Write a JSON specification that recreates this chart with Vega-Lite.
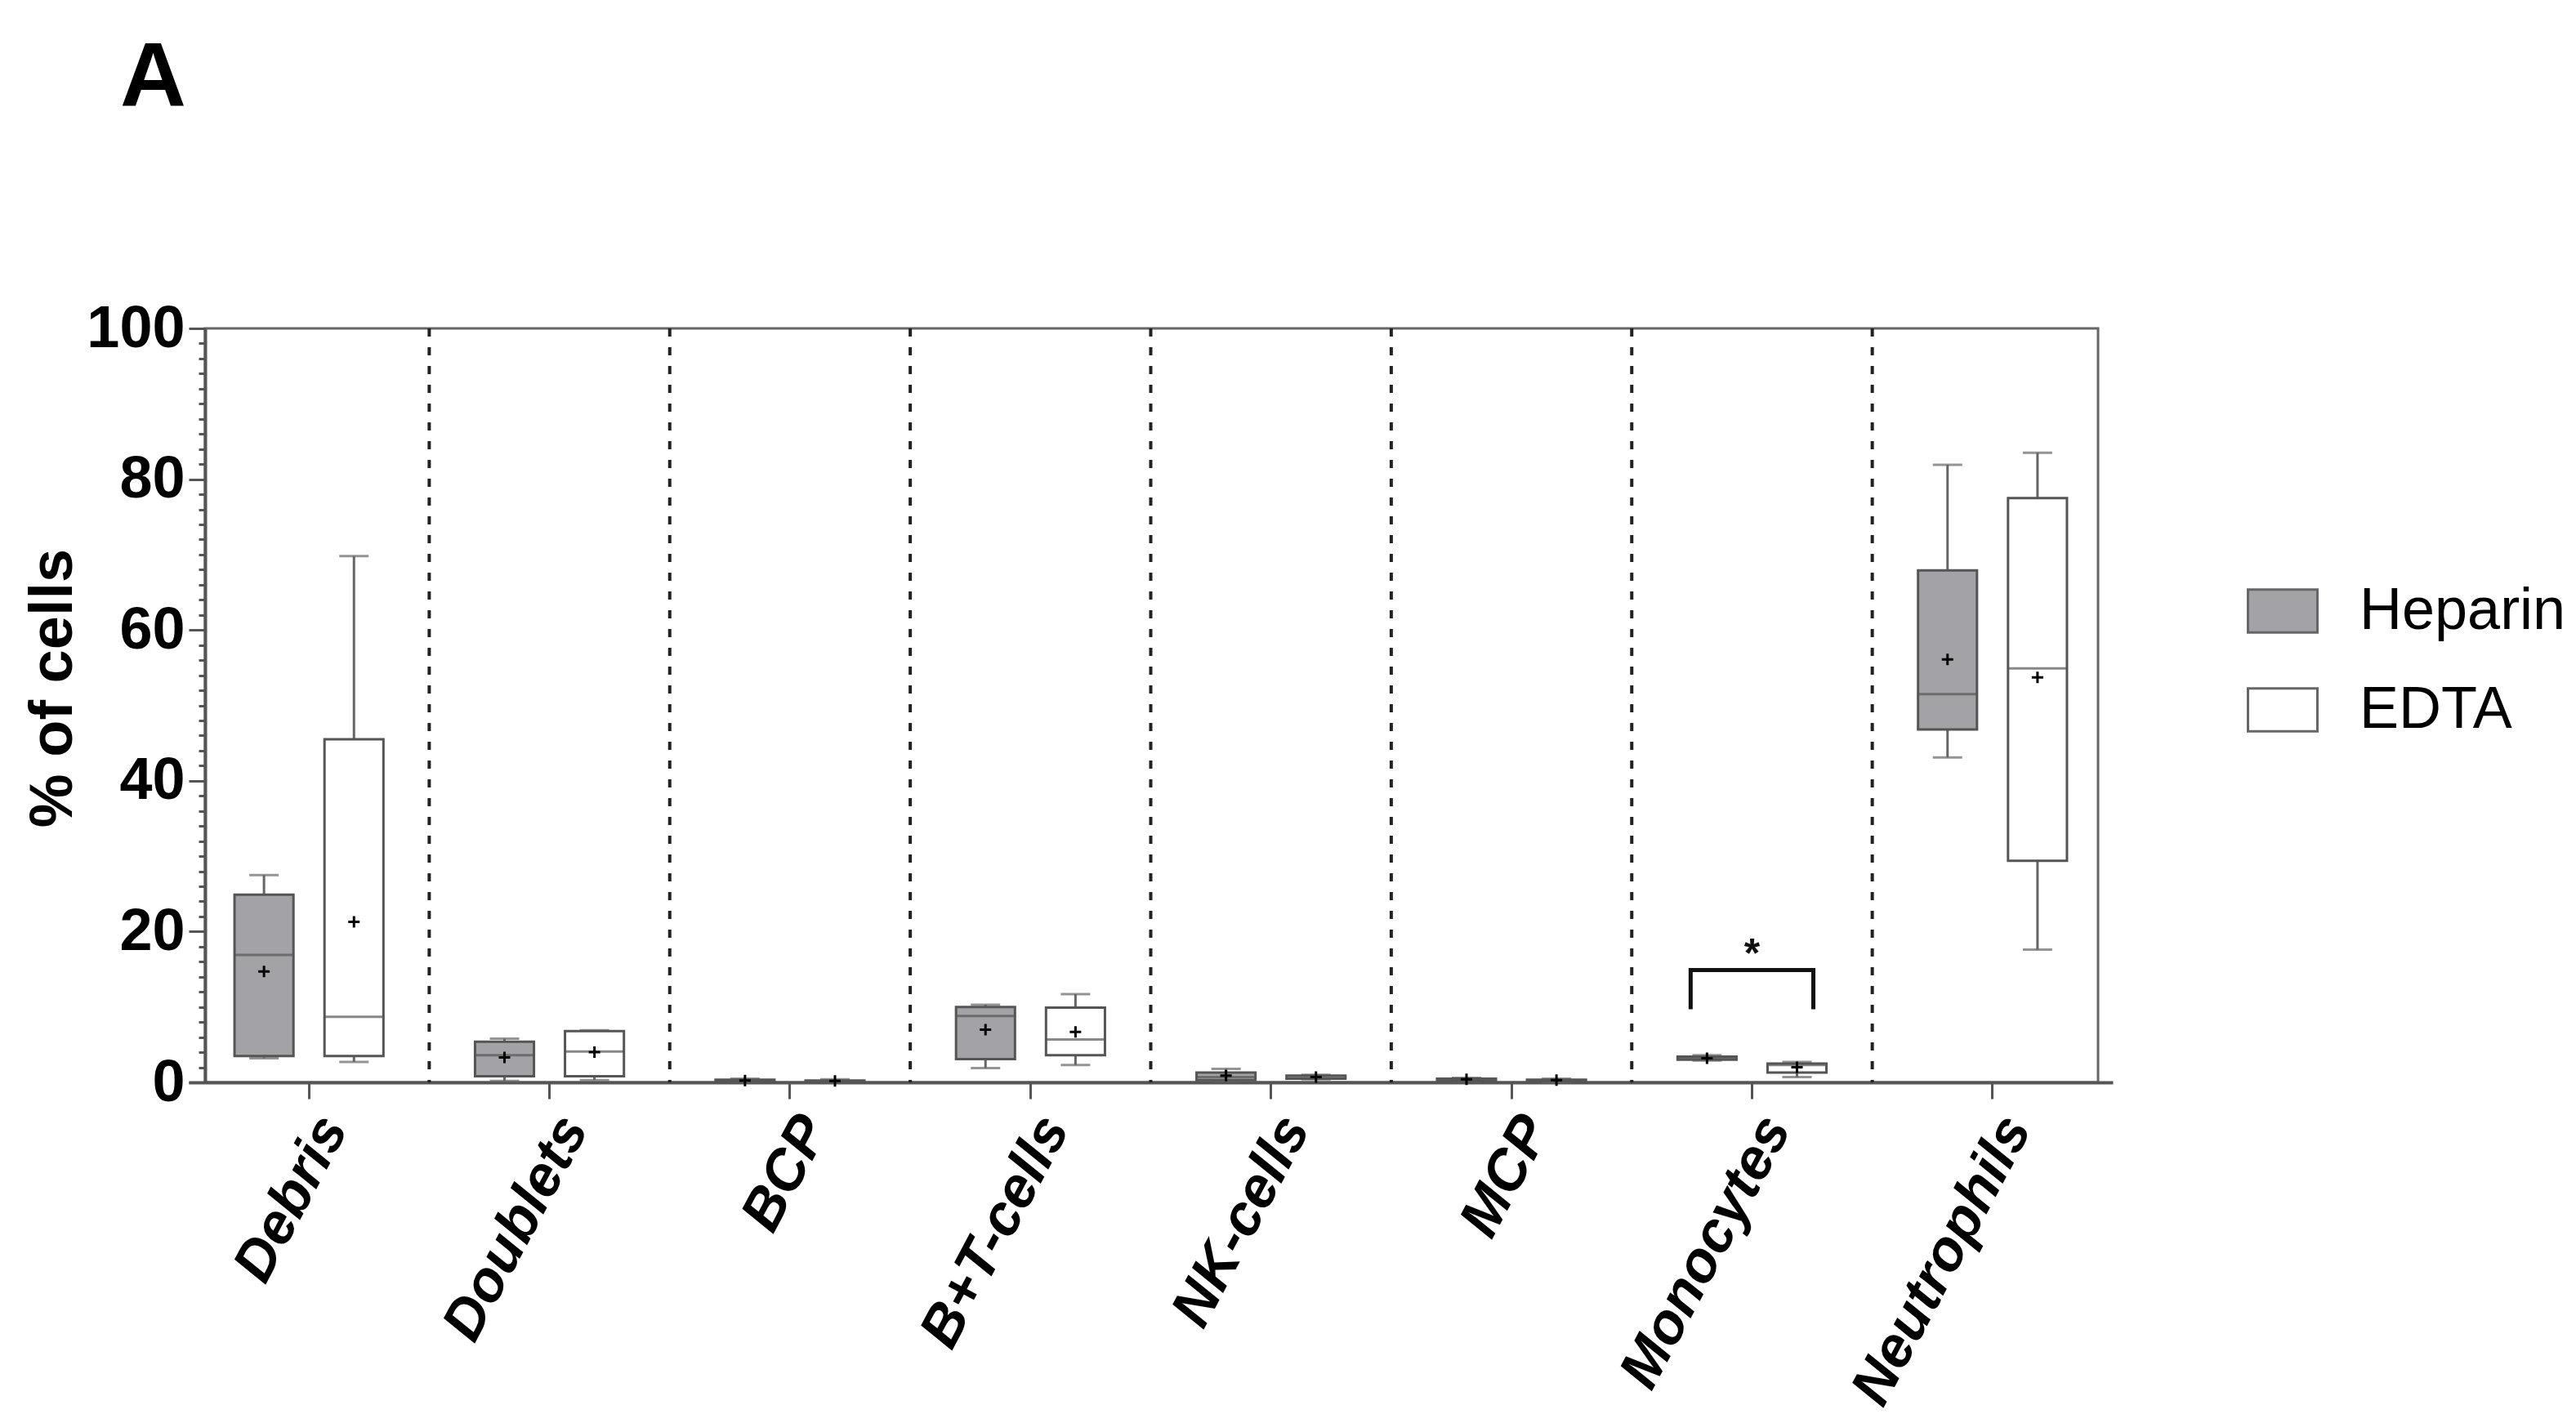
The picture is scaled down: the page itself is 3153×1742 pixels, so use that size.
{
  "$schema": "https://vega.github.io/schema/vega-lite/v6.json",
  "width": 2317,
  "height": 923,
  "autosize": {"type": "none"},
  "padding": {"left": 251, "top": 402, "right": 585, "bottom": 417},
  "background": "white",
  "title": {"text": "A", "anchor": "start", "frame": "group", "font": "Liberation Sans", "fontSize": 112, "fontWeight": "bold", "color": "#000000", "baseline": "alphabetic", "offset": 124, "dx": -104},
  "config": {
    "view": {"stroke": "#666666", "strokeWidth": 3},
    "font": "Liberation Sans",
    "axis": {"labelLimit": 0},
    "legend": {"labelLimit": 0}
  },
  "datasets": {
    "boxes": [
      {"category": "Debris", "group": "Heparin", "min": 3.2, "q1": 3.5, "median": 16.9, "q3": 24.9, "max": 27.5, "mean": 14.7},
      {"category": "Debris", "group": "EDTA", "min": 2.7, "q1": 3.5, "median": 8.7, "q3": 45.5, "max": 69.8, "mean": 21.3},
      {"category": "Doublets", "group": "Heparin", "min": 0.2, "q1": 0.8, "median": 3.6, "q3": 5.4, "max": 5.8, "mean": 3.3},
      {"category": "Doublets", "group": "EDTA", "min": 0.3, "q1": 0.8, "median": 4.1, "q3": 6.8, "max": 6.9, "mean": 4.0},
      {"category": "BCP", "group": "Heparin", "min": 0.1, "q1": 0.15, "median": 0.25, "q3": 0.35, "max": 0.5, "mean": 0.25},
      {"category": "BCP", "group": "EDTA", "min": 0.05, "q1": 0.1, "median": 0.15, "q3": 0.25, "max": 0.4, "mean": 0.2},
      {"category": "B+T-cells", "group": "Heparin", "min": 1.9, "q1": 3.1, "median": 8.8, "q3": 10.0, "max": 10.3, "mean": 7.0},
      {"category": "B+T-cells", "group": "EDTA", "min": 2.3, "q1": 3.6, "median": 5.7, "q3": 9.9, "max": 11.7, "mean": 6.7},
      {"category": "NK-cells", "group": "Heparin", "min": 0.2, "q1": 0.3, "median": 0.7, "q3": 1.3, "max": 1.8, "mean": 0.9},
      {"category": "NK-cells", "group": "EDTA", "min": 0.4, "q1": 0.5, "median": 0.7, "q3": 0.9, "max": 1.0, "mean": 0.7},
      {"category": "MCP", "group": "Heparin", "min": 0.1, "q1": 0.2, "median": 0.35, "q3": 0.5, "max": 0.6, "mean": 0.4},
      {"category": "MCP", "group": "EDTA", "min": 0.05, "q1": 0.15, "median": 0.25, "q3": 0.35, "max": 0.5, "mean": 0.3},
      {"category": "Monocytes", "group": "Heparin", "min": 2.9, "q1": 3.0, "median": 3.2, "q3": 3.4, "max": 3.6, "mean": 3.2},
      {"category": "Monocytes", "group": "EDTA", "min": 0.7, "q1": 1.3, "median": 2.3, "q3": 2.5, "max": 2.7, "mean": 2.0},
      {"category": "Neutrophils", "group": "Heparin", "min": 43.1, "q1": 46.8, "median": 51.5, "q3": 67.9, "max": 81.9, "mean": 56.1},
      {"category": "Neutrophils", "group": "EDTA", "min": 17.6, "q1": 29.4, "median": 54.9, "q3": 77.5, "max": 83.5, "mean": 53.7}
    ],
    "dividers": [
      {"category": "Doublets"}, {"category": "BCP"}, {"category": "B+T-cells"}, {"category": "NK-cells"},
      {"category": "MCP"}, {"category": "Monocytes"}, {"category": "Neutrophils"}
    ],
    "bracket": [
      {"category": "Monocytes", "group": "Heparin", "y": 9.7, "ord": 1},
      {"category": "Monocytes", "group": "Heparin", "y": 14.9, "ord": 2},
      {"category": "Monocytes", "group": "EDTA", "y": 14.9, "ord": 3},
      {"category": "Monocytes", "group": "EDTA", "y": 9.7, "ord": 4}
    ],
    "star": [{"category": "Monocytes", "y": 18.4, "label": "*"}]
  },
  "encoding": {
    "x": {
      "field": "category", "type": "nominal",
      "scale": {"domain": ["Debris", "Doublets", "BCP", "B+T-cells", "NK-cells", "MCP", "Monocytes", "Neutrophils"], "range": [-20, 2335], "paddingInner": 0, "paddingOuter": 0},
      "axis": {
        "title": null, "domain": true, "domainColor": "#555555", "domainWidth": 4,
        "ticks": true, "tickSize": 20, "tickWidth": 3, "tickColor": "#555555",
        "labelFont": "Liberation Sans", "labelFontSize": 70, "labelFontWeight": "bold", "labelFontStyle": "italic", "labelColor": "#000000",
        "labelAngle": -62, "labelAlign": "right", "labelBaseline": "top", "labelPadding": 10, "labelLimit": 0, "grid": false
      }
    }
  },
  "layer": [
    {
      "data": {"name": "dividers"},
      "mark": {"type": "rule", "strokeDash": [10, 13], "strokeWidth": 4, "color": "#222222"},
      "encoding": {"x": {"field": "category", "type": "nominal", "bandPosition": 0}}
    },
    {
      "data": {"name": "boxes"},
      "encoding": {
        "xOffset": {"field": "group", "type": "nominal", "scale": {"domain": ["Heparin", "EDTA"], "paddingInner": 0.345, "paddingOuter": 0.509}}
      },
      "layer": [
        {
          "mark": {"type": "rule", "color": "#666666", "strokeWidth": 3},
          "encoding": {
            "y": {"field": "min", "type": "quantitative",
              "scale": {"domain": [0, 100], "nice": false},
              "axis": {
                "orient": "left",
                "values": [0, 20, 40, 60, 80, 100],
                "tickSize": 20, "tickWidth": 3, "tickColor": "#555555",
                "domain": true, "domainColor": "#555555", "domainWidth": 4,
                "labelFont": "Liberation Sans", "labelFontSize": 72, "labelFontWeight": "bold", "labelColor": "#000000", "labelPadding": 5,
                "title": "% of cells", "titleFont": "Liberation Sans", "titleFontSize": 74, "titleFontWeight": "bold", "titleColor": "#000000", "titlePadding": 2, "titleY": 440,
                "grid": false
              }
            },
            "y2": {"field": "max"}
          }
        },
        {
          "mark": {"type": "tick", "color": "#666666", "size": 36, "thickness": 3},
          "encoding": {"y": {"field": "min", "type": "quantitative",
            "axis": {
              "orient": "left",
              "values": [2,4,6,8,10,12,14,16,18,22,24,26,28,30,32,34,36,38,42,44,46,48,50,52,54,56,58,62,64,66,68,70,72,74,76,78,82,84,86,88,90,92,94,96,98],
              "labels": false, "domain": false, "title": null, "grid": false,
              "tickSize": 8, "tickWidth": 3, "tickColor": "#555555"
            }
          }}
        },
        {
          "mark": {"type": "tick", "color": "#666666", "size": 36, "thickness": 3},
          "encoding": {"y": {"field": "max", "type": "quantitative", "axis": null}}
        },
        {
          "mark": {"type": "bar", "stroke": "#555555", "strokeWidth": 3},
          "encoding": {
            "y": {"field": "q1", "type": "quantitative", "axis": null},
            "y2": {"field": "q3"},
            "color": {
              "field": "group", "type": "nominal",
              "scale": {"domain": ["Heparin", "EDTA"], "range": ["#a3a3a7", "#ffffff"]},
              "legend": {
                "orient": "none", "legendX": 2499, "legendY": 302, "title": null, "padding": 0,
                "symbolType": "M-1,-0.62H1V0.62H-1Z", "symbolSize": 7225, "symbolStrokeColor": "#666666", "symbolStrokeWidth": 3,
                "labelFont": "Liberation Sans", "labelFontSize": 72, "labelColor": "#000000", "labelOffset": 50, "labelLimit": 0, "rowPadding": 41
              }
            }
          }
        },
        {
          "mark": {"type": "tick", "color": "#555555", "size": 72, "thickness": 3},
          "encoding": {"y": {"field": "median", "type": "quantitative", "axis": null}}
        },
        {
          "mark": {"type": "point", "shape": "M-1,0H1M0,-1V1", "size": 196, "filled": false, "stroke": "#000000", "strokeWidth": 3, "opacity": 1},
          "encoding": {"y": {"field": "mean", "type": "quantitative", "axis": null}}
        }
      ],
      "resolve": {"axis": {"y": "independent"}}
    },
    {
      "data": {"name": "bracket"},
      "mark": {"type": "line", "color": "#111111", "strokeWidth": 5, "strokeJoin": "miter"},
      "encoding": {
        "xOffset": {"field": "group", "type": "nominal", "scale": {"type": "point", "domain": ["Heparin", "EDTA"], "padding": 0.48}},
        "y": {"field": "y", "type": "quantitative", "axis": null},
        "order": {"field": "ord", "type": "quantitative"}
      }
    },
    {
      "data": {"name": "star"},
      "mark": {"type": "text", "font": "Liberation Sans", "fontSize": 50, "fontWeight": "bold", "color": "#111111", "baseline": "middle", "dy": 14},
      "encoding": {
        "y": {"field": "y", "type": "quantitative", "axis": null},
        "text": {"field": "label"}
      }
    }
  ],
  "resolve": {"scale": {"xOffset": "independent"}, "axis": {"y": "independent"}}
}
